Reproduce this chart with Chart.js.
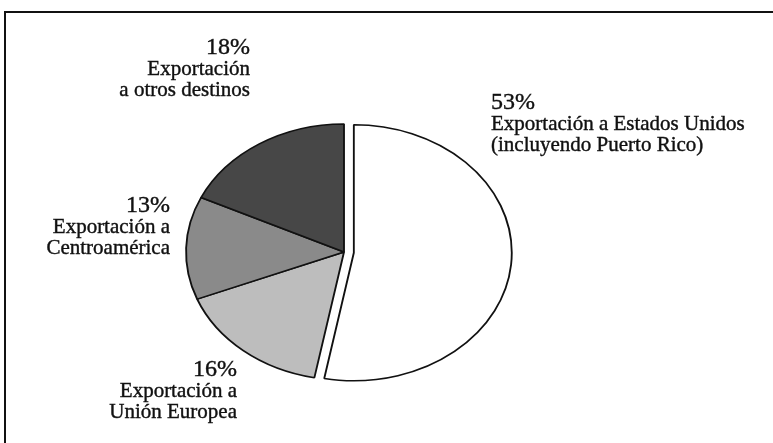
<!DOCTYPE html>
<html>
<head>
<meta charset="utf-8">
<script src="https://cdn.jsdelivr.net/npm/chart.js"></script>
<style>
  html, body { margin: 0; padding: 0; background: #fff; }
  #wrap { position: relative; width: 773px; height: 443px; overflow: hidden; }
  #frame { position: absolute; left: 4px; top: 11px; width: 800px; height: 500px;
           border-top: 2px solid #111; border-left: 2px solid #111; }
  canvas { position: absolute; left: 0; top: 0; }
</style>
</head>
<body>
<div id="wrap">
  <div id="frame"></div>
  <canvas id="chart" width="773" height="443"></canvas>
</div>
<script>
// slices, clockwise from 12 o'clock
const categories = [
    ["Exportación a Estados Unidos", "(incluyendo Puerto Rico)"],
    ["Exportación a", "Unión Europea"],
    ["Exportación a", "Centroamérica"],
    ["Exportación", "a otros destinos"]
];
const shares = [53, 16, 13, 18];
const shareLabels = ["53%", "16%", "13%", "18%"];

const fills = ["#ffffff", "#bdbdbd", "#8a8a8a", "#474747"];
// how far each slice is pulled out of the pie (px, before stretching)
const explode = [8, 0, 0, 0];

// the printed pie is an ellipse, wider than tall
const STRETCH_X = 1.234;

// where each label sits, px from the pie centre (align, dx, dy of the % baseline)
const labelPos = [
    { align: "left",  dx: 147,  dy: -143 },
    { align: "right", dx: -107, dy: 124 },
    { align: "right", dx: -174, dy: -40 },
    { align: "right", dx: -94,  dy: -198 }
];

// move exploded slices without letting chart.js grow their radius
const explodePlugin = {
    id: "explode",
    afterDatasetsUpdate(chart) {
        chart.getDatasetMeta(0).data.forEach((arc, i) => {
            if (!explode[i]) return;
            const mid = (arc.startAngle + arc.endAngle) / 2;
            arc.x += Math.cos(mid) * explode[i];
            arc.y += Math.sin(mid) * explode[i];
        });
    }
};

const ellipsePlugin = {
    id: "ellipse",
    beforeDatasetsDraw(chart) {
        const arc = chart.getDatasetMeta(0).data[1];
        const ctx = chart.ctx;
        ctx.save();
        ctx.translate(arc.x, arc.y);
        ctx.scale(STRETCH_X, 1);
        ctx.translate(-arc.x, -arc.y);
    },
    afterDatasetsDraw(chart) {
        chart.ctx.restore();
    }
};

const labelPlugin = {
    id: "sliceLabels",
    afterDraw(chart) {
        const ctx = chart.ctx;
        const arc = chart.getDatasetMeta(0).data[1];
        ctx.save();
        ctx.fillStyle = "#111";
        ctx.strokeStyle = "#111";
        ctx.lineWidth = 0.4;
        ctx.textBaseline = "alphabetic";
        const put = (t, x, y) => { ctx.fillText(t, x, y); ctx.strokeText(t, x, y); };
        labelPos.forEach((p, i) => {
            const x = arc.x + p.dx;
            let y = arc.y + p.dy;
            ctx.textAlign = p.align;
            ctx.font = "24px 'Liberation Serif', 'Times New Roman', serif";
            put(shareLabels[i], x, y);
            ctx.font = "21px 'Liberation Serif', 'Times New Roman', serif";
            categories[i].forEach((line) => {
                y += 21;
                put(line, x, y);
            });
        });
        ctx.restore();
    }
};

new Chart(document.getElementById("chart"), {
    type: "pie",
    data: {
        labels: categories.map(c => c.join(" ")),
        datasets: [{
            data: shares,
            backgroundColor: fills,
            borderColor: "#111",
            borderWidth: 1.5,
            radius: 128
        }]
    },
    options: {
        responsive: false,
        animation: false,
        events: [],
        layout: { padding: { left: 0, right: 85, top: 61, bottom: 0 } },
        plugins: {
            legend: { display: false },
            tooltip: { enabled: false }
        }
    },
    plugins: [explodePlugin, ellipsePlugin, labelPlugin]
});
</script>
</body>
</html>
